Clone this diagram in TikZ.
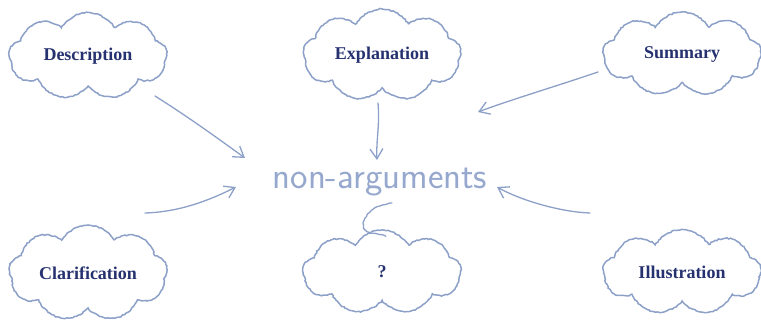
\documentclass[tikz,border=0pt]{standalone}
\usepackage{fontspec}
\setmainfont{Liberation Serif}
\usetikzlibrary{shapes.symbols,arrows.meta,decorations.pathmorphing}
\definecolor{sketch}{RGB}{140,160,200}
\definecolor{ink}{RGB}{150,168,205}
\definecolor{navy}{RGB}{38,50,112}
\tikzset{
  bubble/.style={cloud, draw=sketch, line width=1.5pt, cloud puffs=9, cloud puff arc=120,
    aspect=1.9, minimum width=158pt, minimum height=84pt, inner sep=0pt,
    decorate, decoration={random steps, segment length=2pt, amplitude=0.6pt},
    font=\fontsize{18}{21}\selectfont\bfseries, text=navy},
  pen/.style={draw=sketch, line width=1.3pt, line cap=round,
    decorate, decoration={random steps, segment length=2.5pt, amplitude=0.5pt}},
  penarrow/.style={draw=sketch, line width=1.3pt, line cap=round,
    -{Straight Barb[length=10pt,width=13pt,line width=1.3pt]}},
}
\begin{document}
\begin{tikzpicture}[x=1pt,y=-1pt]
\useasboundingbox (0,0) rectangle (761,323);
\node[bubble] (desc) at (88,56) {Description};
\node[bubble] (expl) at (382,55) {Explanation};
\node[bubble] (summ) at (682,54) {Summary};
\node[bubble] (clar) at (88,273) {Clarification};
\node[bubble] (ques) at (382,272) {?};
\node[bubble] (illu) at (682,272) {Illustration};
\node[font=\sffamily\fontsize{37}{40}\selectfont, text=ink] (non) at (380,182) {non-arguments};
% arrow ends
\coordinate (a1) at (155,96);
\coordinate (h1) at (245,158);
\coordinate (a2) at (378,103);
\coordinate (h2) at (377,160);
\coordinate (a3) at (598,72);
\coordinate (h3) at (478,112);
\coordinate (a4) at (145,213);
\coordinate (h4) at (236,187);
\coordinate (a5) at (590,213);
\coordinate (h5) at (497,187);
\draw[penarrow] (a1) .. controls (190,118) and (220,140) .. (h1);
\draw[penarrow] (a2) .. controls (380,125) and (376,140) .. (h2);
\draw[penarrow] (a3) .. controls (560,85) and (510,100) .. (h3);
\draw[penarrow] (a4) .. controls (180,212) and (210,200) .. (h4);
\draw[penarrow] (a5) .. controls (560,212) and (520,200) .. (h5);
% loop from the g descender into the ? cloud
\coordinate (g1) at (392,203);
\coordinate (g2) at (386,236);
\draw[pen] (g1) .. controls (362,206) and (356,232) .. (372,233) .. controls (382,234) and (384,236) .. (g2);
\end{tikzpicture}
\end{document}
